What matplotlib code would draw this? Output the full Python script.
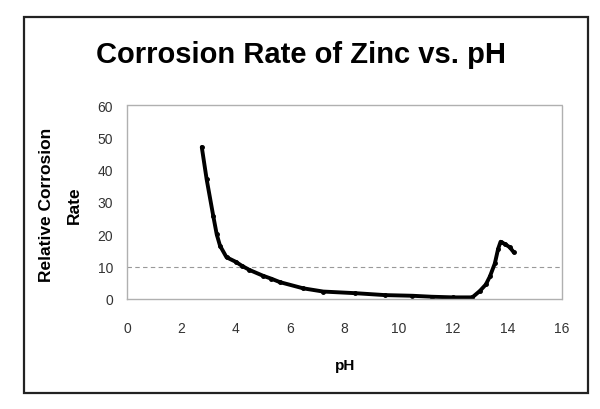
import matplotlib
matplotlib.use("Agg")
import matplotlib.pyplot as plt
from matplotlib.patches import Rectangle

plt.rcParams["font.family"] = ["Liberation Sans", "DejaVu Sans"]

# data
ph = [2.75, 2.93, 3.17, 3.3, 3.42, 3.66, 4.0, 4.22, 4.5, 5.0, 5.3, 5.63,
      6.48, 7.22, 8.4, 9.5, 10.5, 11.2, 12.0, 12.7, 12.98, 13.2, 13.35,
      13.53, 13.65, 13.74, 13.9, 14.08, 14.23]
rate = [47.0, 37.0, 25.8, 20.0, 16.5, 12.9, 11.5, 10.3, 9.0, 7.2, 6.3, 5.2,
        3.3, 2.3, 1.8, 1.2, 1.0, 0.7, 0.5, 0.5, 2.5, 4.5, 7.0,
        11.0, 15.5, 17.7, 17.0, 16.0, 14.4]
xticks = [0, 2, 4, 6, 8, 10, 12, 14, 16]
yticks = [0, 10, 20, 30, 40, 50, 60]
grid_at = [10]

fig = plt.figure(figsize=(6.0, 4.1), dpi=100)
W, H = 600, 410

# outer chart frame
fig.patches.append(Rectangle((24 / W, 1 - 394 / H), 564 / W, 376 / H,
                             transform=fig.transFigure, fill=False,
                             edgecolor="#222222", linewidth=1.6))

ax = fig.add_axes([127 / W, 1 - 300 / H, 435 / W, 194 / H])
ax.plot(ph, rate, color="black", linewidth=2.8, marker="o", markersize=2.5,
        solid_joinstyle="round", solid_capstyle="round")
for g in grid_at:
    ax.axhline(g, color="#999999", linewidth=0.8, linestyle=(0, (4, 3)), zorder=0)

ax.set_xlim(0, 16)
ax.set_ylim(0, 60)
ax.set_xticks(xticks)
ax.set_yticks(yticks)
ax.tick_params(length=0, labelsize=10, colors="#333333")
ax.tick_params(axis="x", pad=16)
ax.tick_params(axis="y", pad=10)
for s in ax.spines.values():
    s.set_color("#b0b0b0")
    s.set_linestyle((0, (1, 1)))
    s.set_linewidth(1.0)

fig.text(301 / W, 1 - 55 / H, "Corrosion Rate of Zinc vs. pH", ha="center",
         va="center", fontsize=21, fontweight="bold")
fig.text(47 / W, 1 - 205 / H, "Relative Corrosion", rotation=90, ha="center",
         va="center", fontsize=12.5, fontweight="bold")
fig.text(74 / W, 1 - 205 / H, "Rate", rotation=90, ha="center",
         va="center", fontsize=12.5, fontweight="bold")
fig.text(345 / W, 1 - 366 / H, "pH", ha="center", va="center",
         fontsize=11, fontweight="bold")

fig.savefig("out.png", dpi=100)
